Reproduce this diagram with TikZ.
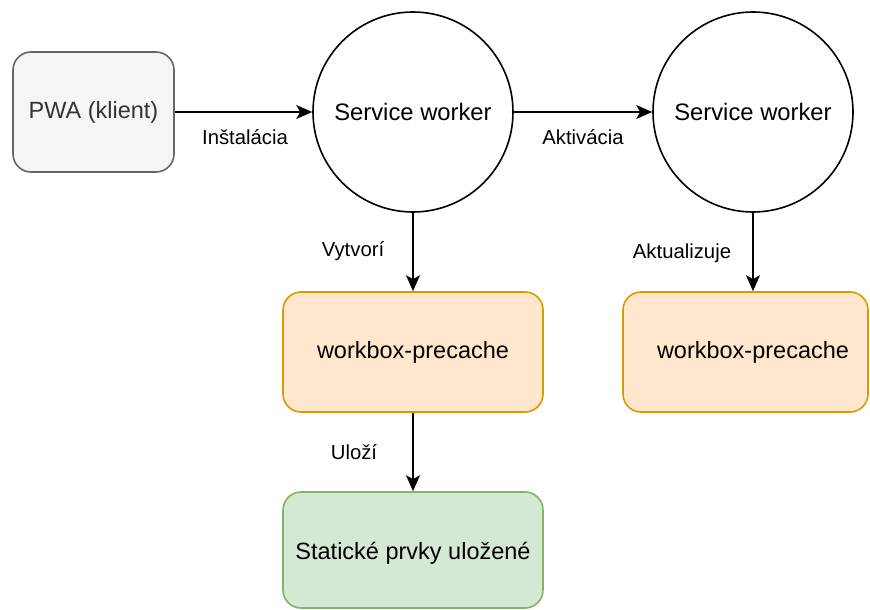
\documentclass[tikz,border=0pt]{standalone}
\usepackage{fontspec}
\setmainfont{Liberation Sans}
\usetikzlibrary{arrows.meta}
\definecolor{greyfill}{HTML}{F5F5F5}
\definecolor{greyline}{HTML}{666666}
\definecolor{greytext}{HTML}{333333}
\definecolor{orfill}{HTML}{FFE6CC}
\definecolor{orline}{HTML}{D79B00}
\definecolor{grfill}{HTML}{D5E8D4}
\definecolor{grline}{HTML}{82B366}
\tikzset{
  box/.style={draw, line width=1.6pt, rounded corners=18pt, minimum height=120pt, inner sep=0pt, font=\fontsize{23.5}{27}\selectfont},
  circ/.style={draw, circle, line width=1.6pt, minimum size=200pt, inner sep=0pt, font=\fontsize{23.8}{27}\selectfont},
  conn/.style={line width=1.6pt, -{Stealth[length=16pt,width=14pt,inset=4pt]}},
  lbl/.style={font=\fontsize{20.3}{24}\selectfont, inner sep=0pt}
}
\begin{document}
\begin{tikzpicture}[x=1pt,y=-1pt]
\useasboundingbox (0,0) rectangle (870,610);
\begin{scope}
\clip (0,0) rectangle (870,610);
\node[box, fill=greyfill, draw=greyline, text=greytext, minimum width=161pt] (pwa) at (93.5,112) {PWA (klient)};
\node[circ] (sw1) at (413,112) {Service worker};
\node[circ] (sw2) at (753,112) {Service worker};
\node[box, fill=orfill, draw=orline, minimum width=260pt] (wb1) at (413,352) {workbox-precache};
\node[box, fill=orfill, draw=orline, minimum width=245pt] (wb2) at (745.5,352) {};
\node[font=\fontsize{23.5}{27}\selectfont, inner sep=0pt] (wb2t) at (753,352) {workbox-precache};
\node[box, fill=grfill, draw=grline, minimum width=260pt, minimum height=116pt] (st) at (413,550) {};
\node[font=\fontsize{23.5}{27}\selectfont, inner sep=0pt] (stt) at (413,553) {Statické prvky uložené};
\end{scope}
\draw[conn] (pwa) -- (sw1);
\draw[conn] (sw1) -- (sw2);
\draw[conn] (sw1) -- (wb1);
\draw[conn] (sw2.south) -- (sw2.south |- wb2.north);
\draw[conn] (wb1) -- (st);
\node[lbl] (l1) at (245,137) {Inštalácia};
\node[lbl] (l2) at (583,137) {Aktivácia};
\node[lbl] (l3) at (353,251) {Vytvorí};
\node[lbl] (l4) at (682,253) {Aktualizuje};
\node[lbl] (l5) at (354,452) {Uloží};
\end{tikzpicture}
\end{document}
